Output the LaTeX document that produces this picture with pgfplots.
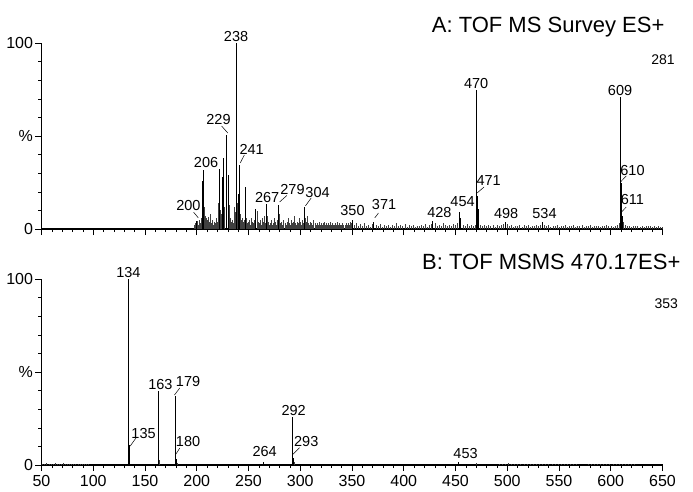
\documentclass[border=0pt]{standalone}
\usepackage{pgfplots}
\pgfplotsset{compat=1.18}
\usepackage{fontspec}
\setmainfont{Liberation Sans}
\newcommand\lab{\fontsize{14.5}{16}\selectfont}
\newcommand\tlab{\fontsize{16}{18}\selectfont}
\tikzset{ld/.style={black, line width=0.5pt}}
\begin{document}
\begin{tikzpicture}
\path[use as bounding box] (0pt,0pt) rectangle (693pt,-491pt);
\pgfplotsset{
  spec/.style={
    scale only axis, width=621pt, height=186pt,
    xmin=50, xmax=650, ymin=0, ymax=100,
    axis x line*=bottom, axis y line*=left,
    axis line style={line width=1.2pt,-},
    tick align=outside, tick style={black, line width=0.6pt},
    major tick length=6pt, minor tick length=3pt,
    xtick={50,100,...,650}, minor x tick num=4,
    ytick={0,50,100}, yticklabels={0,\%,100},
    minor y tick num=4,
    /pgf/number format/assume math mode=true,
    ticklabel style={font=\tlab},
    yticklabel style={xshift=1pt},
    clip=false,
    anchor=south west,
  },
  pk/.style={ycomb, black, line width=0.6pt, mark=none},
  nz/.style={ycomb, black!75, line width=0.45pt, mark=none},
}
% ---------------- Panel A ----------------
\begin{axis}[spec, at={(41.5pt,-229pt)}, xticklabels={}]
\addplot[nz] coordinates {
(198,2) (199,3) (200,4.5) (201,2) (202,5) (203,3) (204,6) (207,12) (208,7) (209,6) (210,5) (211,6.6) (212,4) (213,8) (214,3) (215,5) (216,2) (217,4) (218,3) (219,6) (220,4) (221,14) (223,10) (224,8) (227,12) (228,9) (231,13) (232,6) (233,4) (234,5) (235,3) (236,12) (237,9) (239,14) (242,8) (243,5) (244,6) (245,4) (246,5) (248,6) (249,3) (250,4) (251,5) (252,2) (253,6) (254,4) (255,3) (256,5) (258,9.5) (259,4) (260,3) (261,5) (262,2) (263,6) (264,4) (265,7) (266,3) (268,7) (269,4) (270,2) (271,3) (272,5) (273,2) (274,3) (275,6) (276,4) (277,2) (278,5) (280,8) (281,3) (282,4) (283,2) (284,5) (285,3) (286,2) (287,4) (288,6) (289,3) (290,2) (291,5) (292,3) (293,4) (294,7) (295,3) (296,2) (297,4) (298,3) (299,6) (300,4) (301,2) (302,5) (303,3) (305,6) (306,4) (307,7) (308,3) (309,2) (310,4) (311,3) (312,2) (313,5) (314,3) (315,2) (316,3) (317,2) (318,4) (319,2) (320,3) (321,2) (322,3) (323,4) (324,2) (325,3) (326,2) (327,3) (328,2) (329,4) (330,2) (331,3) (332,2) (333,2) (334,3) (335,2) (336,4) (337,2) (338,3) (339,2) (340,2) (341,3) (342,2) (343,2) (344,3) (345,2) (346,3) (347,2) (348,4) (349,3)
(352,2) (354,3) (356,1.5) (358,2.5) (360,1.8) (362,3) (364,1.5) (366,2) (368,1.2) (370,2.5) (373,2) (375,1.5) (377,2.8) (379,1.3) (381,2.2) (383,1.6) (385,2.4) (387,1.2) (389,2) (391,1.7) (393,3) (395,1.4) (397,2.1) (399,1.5) (401,2.6) (403,1.3) (405,1.9) (407,1.5) (409,2.3) (411,1.2) (413,1.8) (415,1.4) (417,2.2) (419,1.6) (421,2.5) (423,1.3) (425,2) (427,2.8) (430,3) (432,1.8) (434,2.4) (436,1.5) (438,3.2) (440,1.9) (442,1.4) (444,2.2) (446,1.6) (448,2.6) (450,2) (452,3) (457,2.2) (459,1.8) (461,2.5) (463,1.5) (465,2) (467,1.6) (469,2.4) (474,2) (476,1.5) (478,2.2) (480,1.4) (482,2) (484,1.6) (486,2.3) (488,1.3) (490,2) (492,1.5) (494,2.4) (496,2.8) (500,2.6) (502,1.5) (504,2) (506,1.3) (508,1.8) (510,1.5) (512,2.2) (514,1.2) (516,1.9) (518,1.4) (520,2.1) (522,1.3) (524,1.8) (526,1.5) (528,2.2) (530,1.6) (532,2.4) (536,2) (538,1.4) (540,1.9) (542,1.3) (544,1.7) (546,1.5) (548,2.1) (550,1.2) (552,1.8) (554,1.4) (556,2) (558,1.3) (560,1.7) (562,1.5) (564,2) (566,1.2) (568,1.6) (570,1.4) (572,1.9) (574,1.3) (576,1.7) (578,1.5) (580,2) (582,1.2) (584,1.6) (586,1.4) (588,1.8) (590,1.3) (592,1.6) (594,1.5) (596,1.9) (598,1.4) (600,1.7) (602,1.3) (604,1.8) (606,2.2) (608,3) (612,4) (614,2) (616,1.5) (618,1.8) (620,1.3) (622,1.6) (624,1.4) (626,1.8) (628,1.3) (630,1.5) (632,1.2) (634,1.7) (636,1.4) (638,1.6) (640,1.3) (642,1.5) (644,1.2) (646,1.4) (648,1.3) (650,1.2)
};
\addplot[pk] coordinates {
(200,4.5) (205,26) (206,31.7) (222,32) (225,28) (226,38) (229,50.5) (230,29) (238,100) (240,19) (241,34.5) (247,22.8) (257,11) (267,13.5) (279,13) (304,12) (350,5) (371,4) (428,4.5) (454,9) (455,6) (470,75) (471,18) (472,11) (498,3.5) (534,3.5) (609,71) (610,25) (611,7)
};
\node[font=\lab, anchor=south, inner sep=1pt] at (axis cs:238,100) {238};
\node[font=\lab] at (axis cs:221,59) {229};
\draw[ld] (axis cs:224,55.4) -- (axis cs:230,51.6);
\node[font=\lab] at (axis cs:253,43) {241};
\draw[ld] (axis cs:242,35.5) -- (axis cs:246,39.8);
\node[font=\lab] at (axis cs:209,36) {206};
\node[font=\lab] at (axis cs:192,12.4) {200};
\draw[ld] (axis cs:197,9) -- (axis cs:201.5,6);
\node[font=\lab] at (axis cs:268,17) {267};
\node[font=\lab] at (axis cs:292.5,21.5) {279};
\draw[ld] (axis cs:280,14.5) -- (axis cs:287,18);
\node[font=\lab] at (axis cs:316.7,19.4) {304};
\draw[ld] (axis cs:305,12.4) -- (axis cs:310.6,16.7);
\node[font=\lab] at (axis cs:350.5,9.7) {350};
\node[font=\lab] at (axis cs:381,13) {371};
\draw[ld] (axis cs:372,6) -- (axis cs:375.6,8.6);
\node[font=\lab] at (axis cs:434.5,9) {428};
\node[font=\lab] at (axis cs:456.8,14.5) {454};
\node[font=\lab, anchor=south, inner sep=1pt] at (axis cs:470,75) {470};
\node[font=\lab] at (axis cs:482,26) {471};
\draw[ld] (axis cs:471,19.4) -- (axis cs:477.6,22.6);
\node[font=\lab] at (axis cs:499,8.6) {498};
\node[font=\lab] at (axis cs:536,8.6) {534};
\node[font=\lab, anchor=south, inner sep=1pt] at (axis cs:609,71) {609};
\node[font=\lab] at (axis cs:621,31.7) {610};
\draw[ld] (axis cs:609.4,25.3) -- (axis cs:615,28.5);
\node[font=\lab] at (axis cs:621,16) {611};
\draw[ld] (axis cs:609.4,8.6) -- (axis cs:615,11.8);
\node[font=\fontsize{14}{16}\selectfont, anchor=east, inner sep=0pt] at (axis cs:662,91) {281};
\node[font=\fontsize{22}{24}\selectfont, anchor=east, inner sep=0pt] at (axis cs:652,108.6) {A: TOF MS Survey ES+};
\end{axis}
% ---------------- Panel B ----------------
\begin{axis}[spec, at={(41.5pt,-465pt)}, xticklabel style={yshift=-1pt}]
\addplot[nz] coordinates {
(51,0.8) (53,0.6) (55,0.9) (57,0.7) (59,0.8) (61,0.6) (63,0.9) (65,0.7) (67,0.8) (69,0.6) (71,0.9) (73,0.7) (75,0.8) (77,0.6) (79,0.8) (81,0.7) (83,0.6) (85,0.8) (87,0.7) (89,0.6) (91,0.7) (93,0.6) (95,0.7)
(164,2.5) (181,1.2) (294,1.5) (470,1.2)
(492,0.7) (495,0.8) (498,0.6) (501,0.9) (504,0.7) (507,0.8) (510,0.6) (513,0.8) (516,0.7) (519,0.6) (522,0.8) (525,0.7) (528,0.6) (531,0.7) (534,0.6) (537,0.7) (540,0.6) (543,0.7) (546,0.6) (549,0.7) (552,0.6) (555,0.7) (558,0.6) (561,0.7) (564,0.6) (567,0.6)
(578,0.8) (581,0.7) (584,0.8) (587,0.7) (590,0.8) (593,0.6) (596,0.8) (599,0.7) (602,0.8) (605,0.6) (608,0.7) (611,0.6) (614,0.7) (617,0.6) (620,0.7) (623,0.6)
};
\addplot[pk] coordinates {
(134,100) (135,10.8) (163,40) (179,37) (180,3) (264,1.5) (292,26) (293,4) (453,1.5)
};
\node[font=\lab, anchor=south, inner sep=1pt] at (axis cs:134,100) {134};
\node[font=\lab] at (axis cs:148.6,17) {135};
\draw[ld] (axis cs:135.7,10.2) -- (axis cs:141.5,14.7);
\node[font=\lab] at (axis cs:164.9,43.5) {163};
\node[font=\lab] at (axis cs:191.6,44.8) {179};
\draw[ld] (axis cs:178.4,37.6) -- (axis cs:183.6,41.4);
\node[font=\lab] at (axis cs:191.6,12.4) {180};
\draw[ld] (axis cs:179.3,5.4) -- (axis cs:183.6,9.1);
\node[font=\lab] at (axis cs:265.6,7.2) {264};
\node[font=\lab] at (axis cs:293.6,29.2) {292};
\node[font=\lab] at (axis cs:305.8,12.4) {293};
\draw[ld] (axis cs:293,5.8) -- (axis cs:299.4,9.3);
\node[font=\lab] at (axis cs:459.7,6.3) {453};
\node[font=\fontsize{14}{16}\selectfont] at (axis cs:653.7,87) {353};
\node[font=\fontsize{22}{24}\selectfont, anchor=east, inner sep=0pt] at (axis cs:667.5,109.3) {B: TOF MSMS 470.17ES+};
\end{axis}
\end{tikzpicture}
\end{document}
